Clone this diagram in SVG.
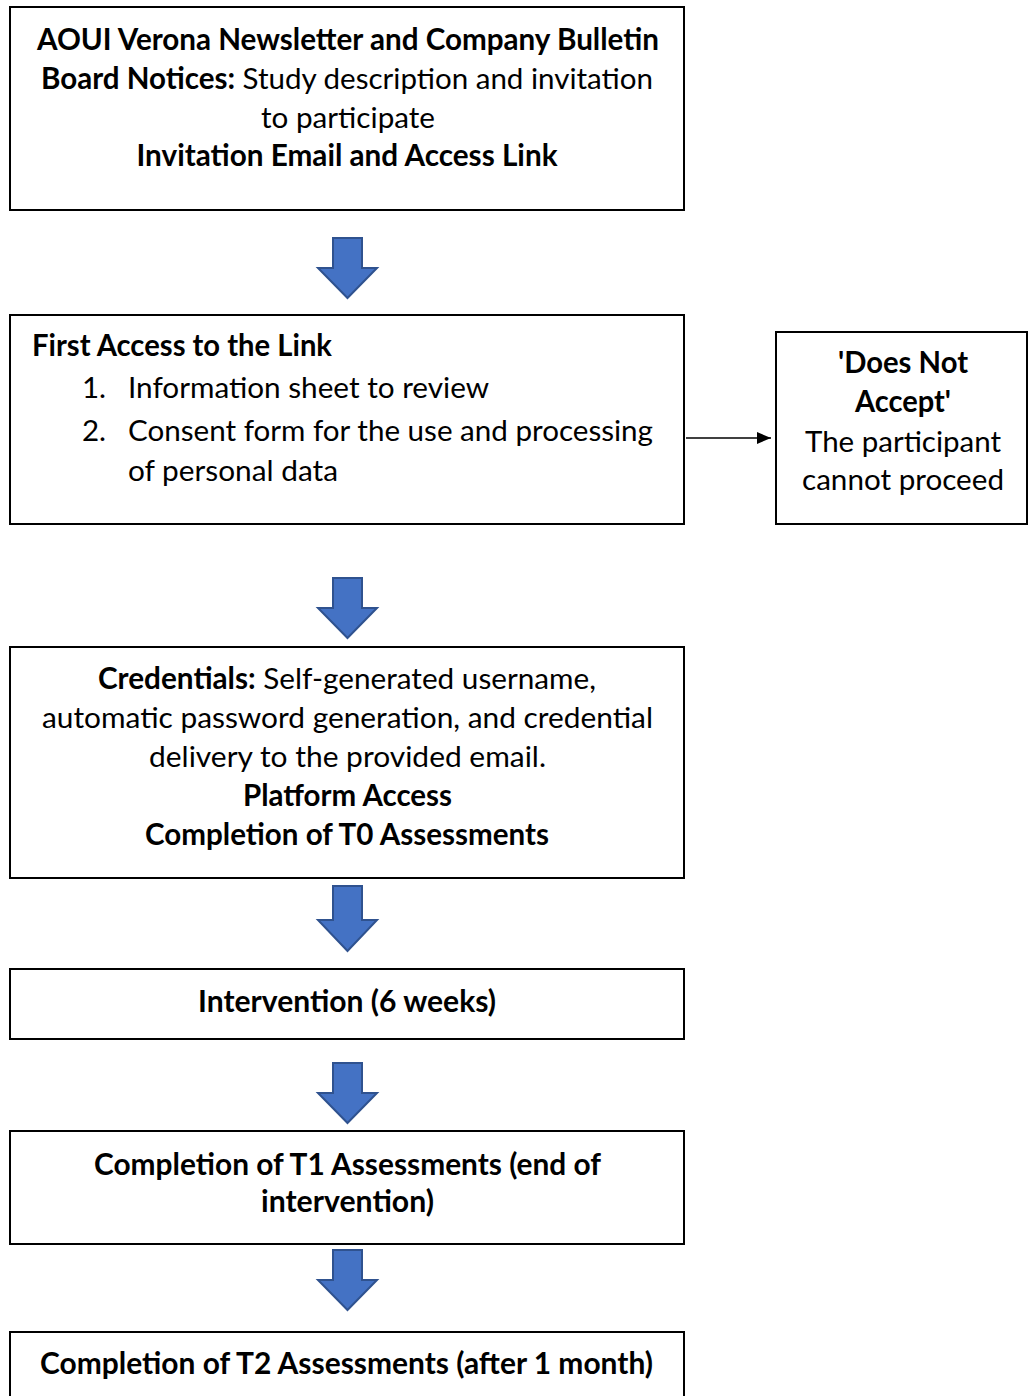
<svg xmlns="http://www.w3.org/2000/svg" width="1028" height="1396" viewBox="0 0 1028 1396">
<style>
.box{fill:#fff;stroke:#000;stroke-width:2}
text{font-family:Lato,"Liberation Sans",sans-serif;font-size:29.5px;fill:#000}
.c{text-anchor:middle}
.b{font-weight:bold}
.blk{fill:#4472C4;stroke:#2F528F;stroke-width:2}
.conn{stroke:#000;stroke-width:1.3;fill:none}
</style>
<defs>
<marker id="ah" viewBox="0 0 14 12" refX="14" refY="6" markerWidth="14" markerHeight="12" markerUnits="userSpaceOnUse" orient="auto">
<path d="M0,0 L14,6 L0,12 Z" fill="#000"/>
</marker>
</defs>
<rect width="1028" height="1396" fill="#fff"/>
<g id="n1">
<rect class="box" x="10" y="7" width="674" height="203"/>
<text class="c b" x="348" y="50" textLength="622" lengthAdjust="spacingAndGlyphs">AOUI Verona Newsletter and Company Bulletin</text>
<text class="c" x="347" y="89" textLength="612" lengthAdjust="spacingAndGlyphs"><tspan class="b">Board Notices:</tspan> Study description and invitation</text>
<text class="c" x="348" y="128" textLength="174" lengthAdjust="spacingAndGlyphs">to participate</text>
<text class="c b" x="347" y="166" textLength="421" lengthAdjust="spacingAndGlyphs">Invitation Email and Access Link</text>
</g>
<g id="n2">
<rect class="box" x="10" y="315" width="674" height="209"/>
<text class="b" x="32" y="356" textLength="300" lengthAdjust="spacingAndGlyphs">First Access to the Link</text>
<text x="82" y="398">1.</text>
<text x="128" y="398" textLength="361" lengthAdjust="spacingAndGlyphs">Information sheet to review</text>
<text x="82" y="441">2.</text>
<text x="128" y="441" textLength="525" lengthAdjust="spacingAndGlyphs">Consent form for the use and processing</text>
<text x="128" y="481" textLength="210" lengthAdjust="spacingAndGlyphs">of personal data</text>
</g>
<g id="n3">
<rect class="box" x="776" y="332" width="251" height="192"/>
<text class="c b" x="903" y="373" textLength="130" lengthAdjust="spacingAndGlyphs">'Does Not</text>
<text class="c b" x="903" y="412" textLength="96" lengthAdjust="spacingAndGlyphs">Accept'</text>
<text class="c" x="903" y="452" textLength="196" lengthAdjust="spacingAndGlyphs">The participant</text>
<text class="c" x="903" y="490" textLength="202" lengthAdjust="spacingAndGlyphs">cannot proceed</text>
</g>
<g id="n4">
<rect class="box" x="10" y="647" width="674" height="231"/>
<text class="c" x="347" y="689" textLength="498" lengthAdjust="spacingAndGlyphs"><tspan class="b">Credentials:</tspan> Self-generated username,</text>
<text class="c" x="347.5" y="728" textLength="611" lengthAdjust="spacingAndGlyphs">automatic password generation, and credential</text>
<text class="c" x="347.5" y="767" textLength="397" lengthAdjust="spacingAndGlyphs">delivery to the provided email.</text>
<text class="c b" x="347.5" y="806" textLength="209" lengthAdjust="spacingAndGlyphs">Platform Access</text>
<text class="c b" x="347" y="845" textLength="404" lengthAdjust="spacingAndGlyphs">Completion of T0 Assessments</text>
</g>
<g id="n5">
<rect class="box" x="10" y="969" width="674" height="70"/>
<text class="c b" x="347" y="1012" textLength="298" lengthAdjust="spacingAndGlyphs">Intervention (6 weeks)</text>
</g>
<g id="n6">
<rect class="box" x="10" y="1131" width="674" height="113"/>
<text class="c b" x="347.5" y="1175" textLength="507" lengthAdjust="spacingAndGlyphs">Completion of T1 Assessments (end of</text>
<text class="c b" x="347.5" y="1212" textLength="173" lengthAdjust="spacingAndGlyphs">intervention)</text>
</g>
<g id="n7">
<rect class="box" x="10" y="1332" width="674" height="80"/>
<text class="c b" x="346.5" y="1374" textLength="613" lengthAdjust="spacingAndGlyphs">Completion of T2 Assessments (after 1 month)</text>
</g>
<g id="connectors">
<path class="blk" d="M333,238 H362 V268 H377 L347.5,298 L318,268 H333 Z"/>
<path class="blk" d="M333,578 H362 V608 H377 L347.5,638 L318,608 H333 Z"/>
<path class="blk" d="M333,886 H362 V920 H377 L347.5,951 L318,920 H333 Z"/>
<path class="blk" d="M333,1063 H362 V1093 H377 L347.5,1123 L318,1093 H333 Z"/>
<path class="blk" d="M333,1250 H362 V1280 H377 L347.5,1310 L318,1280 H333 Z"/>
<line class="conn" x1="686" y1="438" x2="771" y2="438" marker-end="url(#ah)"/>
</g>
</svg>
